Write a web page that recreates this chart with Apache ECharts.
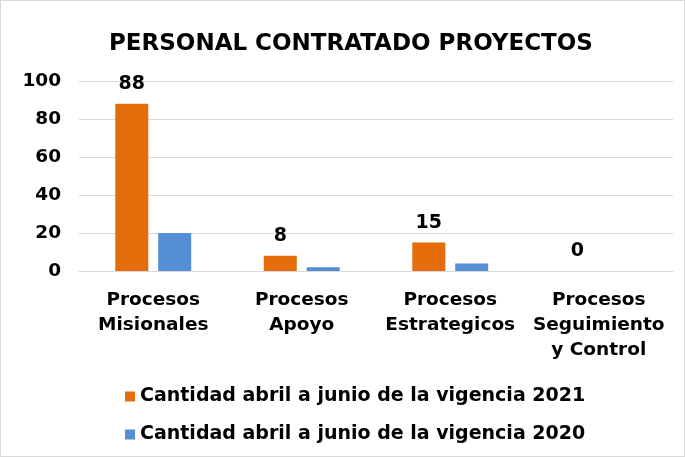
<!DOCTYPE html>
<html>
<head>
<meta charset="utf-8">
<script src="https://cdn.jsdelivr.net/npm/echarts@6/dist/echarts.min.js"></script>
<style>
    html, body { margin: 0; padding: 0; background: #fff; }
    #chart { width: 685px; height: 457px; box-sizing: border-box; border: 1px solid #d9d9d9; }
</style>
</head>
<body>
<div id="chart"></div>
<script>
    // datos
    const categorias = ['Procesos\nMisionales', 'Procesos\nApoyo', 'Procesos\nEstrategicos', 'Procesos\nSeguimiento\ny Control'];
    const nombres = ['Cantidad abril a junio de la vigencia 2021', 'Cantidad abril a junio de la vigencia 2020'];
    const valores2021 = [88, 8, 15, 0];
    const valores2020 = [20, 2, 4, 0];

    const fuente = 'DejaVu Sans';
    const mychart = echarts.init(document.getElementById('chart'));

    const option = {
        animation: false,
        title: {
            text: 'PERSONAL CONTRATADO PROYECTOS',
            left: 103,
            top: 27,
            textStyle: { fontFamily: fuente, fontWeight: 'bold', fontSize: 23, color: '#000' }
        },
        legend: {
            orient: 'vertical',
            left: 119,
            top: 381,
            itemWidth: 10,
            itemHeight: 10,
            itemGap: 19,
            icon: 'rect',
            textStyle: { fontFamily: fuente, fontWeight: 'bold', fontSize: 19, color: '#000' },
            data: nombres
        },
        grid: { left: 78, right: 11, top: 80, bottom: 185, containLabel: false },
        xAxis: {
            type: 'category',
            data: categorias,
            axisLine: { show: true, lineStyle: { color: '#d9d9d9' } },
            axisTick: { show: false },
            axisLabel: {
                interval: 0,
                margin: 17,
                fontFamily: fuente, fontWeight: 'bold', fontSize: 18.5, color: '#000',
                lineHeight: 25
            }
        },
        yAxis: {
            type: 'value',
            min: 0,
            max: 100,
            interval: 20,
            axisLine: { show: false },
            axisTick: { show: false },
            splitLine: { lineStyle: { color: '#d9d9d9' } },
            axisLabel: { margin: 18, fontFamily: fuente, fontWeight: 'bold', fontSize: 18.5, color: '#000' }
        },
        series: [
            {
                name: nombres[0],
                type: 'bar',
                data: valores2021,
                barWidth: 33,
                barGap: '30%',
                itemStyle: { color: '#E46C0A' },
                label: {
                    show: true,
                    position: 'top',
                    distance: 10,
                    fontFamily: fuente, fontWeight: 'bold', fontSize: 19, color: '#000'
                }
            },
            {
                name: nombres[1],
                type: 'bar',
                data: valores2020,
                barWidth: 33,
                itemStyle: { color: '#558ED5' }
            }
        ]
    };
    mychart.setOption(option);
</script>
</body>
</html>
